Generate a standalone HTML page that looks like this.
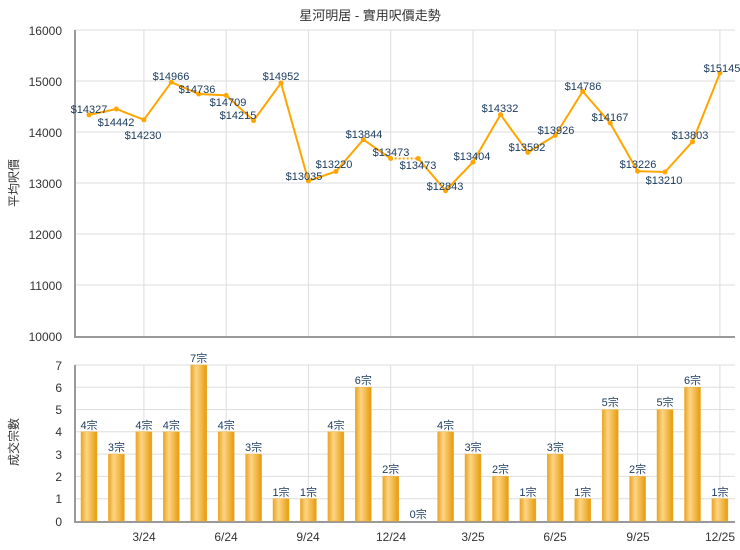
<!DOCTYPE html>
<html><head><meta charset="utf-8"><style>body{margin:0;background:#fff}svg{display:block;font-family:"Liberation Sans","Noto Sans CJK TC",sans-serif}</style></head><body>
<svg width="740" height="550" viewBox="0 0 740 550">
<defs><linearGradient id="g" x1="0" x2="1" y1="0" y2="0"><stop offset="0" stop-color="#e9a324"/><stop offset="0.35" stop-color="#fdd585"/><stop offset="1" stop-color="#e69a0c"/></linearGradient></defs>
<text x="370" y="20" text-anchor="middle" font-size="13" fill="#333">星河明居 - 實用呎價走勢</text>
<g stroke="#ddd" stroke-width="1" fill="none">
<line x1="75" x2="735" y1="30" y2="30"/><line x1="75" x2="735" y1="81" y2="81"/><line x1="75" x2="735" y1="132" y2="132"/><line x1="75" x2="735" y1="183" y2="183"/><line x1="75" x2="735" y1="234" y2="234"/><line x1="75" x2="735" y1="285" y2="285"/>
<line x1="75" x2="735" y1="365" y2="365"/><line x1="75" x2="735" y1="387.3" y2="387.3"/><line x1="75" x2="735" y1="409.6" y2="409.6"/><line x1="75" x2="735" y1="431.8" y2="431.8"/><line x1="75" x2="735" y1="454.1" y2="454.1"/><line x1="75" x2="735" y1="476.4" y2="476.4"/><line x1="75" x2="735" y1="498.7" y2="498.7"/>
<path d="M143.9 30V336M226.2 30V336M308.4 30V336M390.7 30V336M473 30V336M555.3 30V336M637.6 30V336M719.9 30V336M143.9 365V521M226.2 365V521M308.4 365V521M390.7 365V521M473 365V521M555.3 365V521M637.6 365V521M719.9 365V521"/>
</g>
<g stroke="#999" stroke-width="2" fill="none"><path d="M75 30V337H735M75 365V522H735"/></g>
<g font-size="12" fill="#333" text-anchor="end">
<text x="62" y="35">16000</text><text x="62" y="86">15000</text><text x="62" y="137">14000</text><text x="62" y="188">13000</text><text x="62" y="239">12000</text><text x="62" y="290">11000</text><text x="62" y="341">10000</text>
<text x="62" y="370">7</text><text x="62" y="392">6</text><text x="62" y="414">5</text><text x="62" y="436">4</text><text x="62" y="459">3</text><text x="62" y="481">2</text><text x="62" y="503">1</text><text x="62" y="526">0</text>
</g>
<text transform="translate(18,183) rotate(-90)" font-size="12" fill="#333" text-anchor="middle">平均呎價</text>
<text transform="translate(18,442) rotate(-90)" font-size="12" fill="#333" text-anchor="middle">成交宗數</text>
<g font-size="12" fill="#333" text-anchor="middle"><text x="144" y="541">3/24</text><text x="226" y="541">6/24</text><text x="308" y="541">9/24</text><text x="391" y="541">12/24</text><text x="473" y="541">3/25</text><text x="555" y="541">6/25</text><text x="638" y="541">9/25</text><text x="720" y="541">12/25</text></g>
<g fill="none" stroke="#ffa500" stroke-width="2">
<polyline points="89,114.9 116.4,109 143.9,119.8 171.3,82.2 198.7,94 226.2,95.4 253.6,120.6 281,83 308.4,180.9 335.9,171.5 363.3,139.6 390.7,158.5"/>
<polyline points="418.2,158.5 445.6,190.7 473,162.1 500.5,114.6 527.9,152.4 555.3,135.4 582.7,91.4 610.2,123.1 637.6,171.2 665,172 692.5,141.7 719.9,73.1"/>
<line x1="390.7" y1="158.5" x2="418.2" y2="158.5" stroke-dasharray="2,2"/>
</g>
<g fill="#ffa500"><circle cx="89" cy="114.9" r="2.5"/><circle cx="116.4" cy="109" r="2.5"/><circle cx="143.9" cy="119.8" r="2.5"/><circle cx="171.3" cy="82.2" r="2.5"/><circle cx="198.7" cy="94" r="2.5"/><circle cx="226.2" cy="95.4" r="2.5"/><circle cx="253.6" cy="120.6" r="2.5"/><circle cx="281" cy="83" r="2.5"/><circle cx="308.4" cy="180.9" r="2.5"/><circle cx="335.9" cy="171.5" r="2.5"/><circle cx="363.3" cy="139.6" r="2.5"/><circle cx="390.7" cy="158.5" r="2.5"/><circle cx="418.2" cy="158.5" r="2.5"/><circle cx="445.6" cy="190.7" r="2.5"/><circle cx="473" cy="162.1" r="2.5"/><circle cx="500.5" cy="114.6" r="2.5"/><circle cx="527.9" cy="152.4" r="2.5"/><circle cx="555.3" cy="135.4" r="2.5"/><circle cx="582.7" cy="91.4" r="2.5"/><circle cx="610.2" cy="123.1" r="2.5"/><circle cx="637.6" cy="171.2" r="2.5"/><circle cx="665" cy="172" r="2.5"/><circle cx="692.5" cy="141.7" r="2.5"/><circle cx="719.9" cy="73.1" r="2.5"/></g>
<g font-size="11" fill="#1a3a5c" text-anchor="middle">
<text x="89" y="113">$14327</text><text x="116" y="126">$14442</text><text x="143" y="139">$14230</text><text x="171" y="80">$14966</text><text x="197" y="93">$14736</text><text x="228" y="106">$14709</text><text x="238" y="119">$14215</text><text x="281" y="80">$14952</text><text x="304" y="180">$13035</text><text x="334" y="168">$13220</text><text x="364" y="138">$13844</text><text x="391" y="156">$13473</text><text x="418" y="169">$13473</text><text x="445" y="190">$12843</text><text x="472" y="160">$13404</text><text x="500" y="112">$14332</text><text x="527" y="151">$13592</text><text x="556" y="134">$13926</text><text x="583" y="90">$14786</text><text x="610" y="121">$14167</text><text x="638" y="168">$13226</text><text x="664" y="184">$13210</text><text x="690" y="139">$13803</text><text x="722" y="72">$15145</text>
</g>
<g fill="url(#g)" stroke="#f0b030" stroke-width="0.5">
<rect x="81" y="431.8" width="16" height="89.2"/><rect x="108.4" y="454.1" width="16" height="66.9"/><rect x="135.9" y="431.8" width="16" height="89.2"/><rect x="163.3" y="431.8" width="16" height="89.2"/><rect x="190.7" y="365" width="16" height="156"/><rect x="218.2" y="431.8" width="16" height="89.2"/><rect x="245.6" y="454.1" width="16" height="66.9"/><rect x="273" y="498.7" width="16" height="22.3"/><rect x="300.4" y="498.7" width="16" height="22.3"/><rect x="327.9" y="431.8" width="16" height="89.2"/><rect x="355.3" y="387.3" width="16" height="133.7"/><rect x="382.7" y="476.4" width="16" height="44.6"/><rect x="437.6" y="431.8" width="16" height="89.2"/><rect x="465" y="454.1" width="16" height="66.9"/><rect x="492.5" y="476.4" width="16" height="44.6"/><rect x="519.9" y="498.7" width="16" height="22.3"/><rect x="547.3" y="454.1" width="16" height="66.9"/><rect x="574.7" y="498.7" width="16" height="22.3"/><rect x="602.2" y="409.6" width="16" height="111.4"/><rect x="629.6" y="476.4" width="16" height="44.6"/><rect x="657" y="409.6" width="16" height="111.4"/><rect x="684.5" y="387.3" width="16" height="133.7"/><rect x="711.9" y="498.7" width="16" height="22.3"/>
</g>
<g font-size="11" fill="#1a3a5c" text-anchor="middle">
<text x="89" y="429">4宗</text><text x="116.4" y="451">3宗</text><text x="143.9" y="429">4宗</text><text x="171.3" y="429">4宗</text><text x="198.7" y="362">7宗</text><text x="226.2" y="429">4宗</text><text x="253.6" y="451">3宗</text><text x="281" y="496">1宗</text><text x="308.4" y="496">1宗</text><text x="335.9" y="429">4宗</text><text x="363.3" y="384">6宗</text><text x="390.7" y="473">2宗</text><text x="418.2" y="518">0宗</text><text x="445.6" y="429">4宗</text><text x="473" y="451">3宗</text><text x="500.5" y="473">2宗</text><text x="527.9" y="496">1宗</text><text x="555.3" y="451">3宗</text><text x="582.7" y="496">1宗</text><text x="610.2" y="406">5宗</text><text x="637.6" y="473">2宗</text><text x="665" y="406">5宗</text><text x="692.5" y="384">6宗</text><text x="719.9" y="496">1宗</text>
</g>
</svg>
</body></html>
